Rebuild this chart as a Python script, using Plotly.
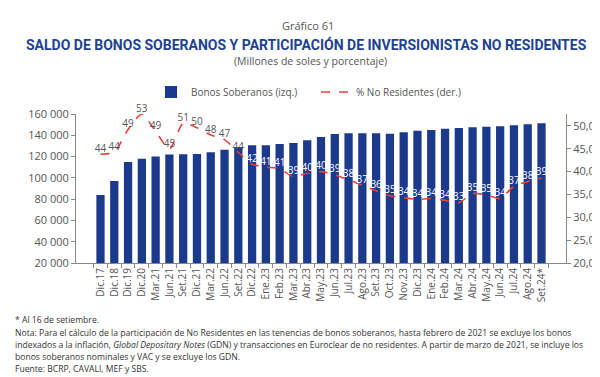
import plotly.graph_objects as go

categories = ["Dic.17", "Dic.18", "Dic.19", "Dic.20", "Mar.21", "Jun.21", "Set.21", "Dic.21",
              "Mar.22", "Jun.22", "Set.22", "Dic.22", "Ene.23", "Feb.23", "Mar.23", "Abr.23",
              "May.23", "Jun.23", "Jul.23", "Ago.23", "Set.23", "Oct.23", "Nov.23", "Dic.23",
              "Ene.24", "Feb.24", "Mar.24", "Abr.24", "May.24", "Jun.24", "Jul.24", "Ago.24", "Set.24*"]

bonos = [84000, 97000, 115000, 118000, 120000, 122000, 122100, 122400,
         124000, 126500, 129000, 130600, 130600, 131800, 132800, 135300,
         138400, 141200, 141900, 141900, 141900, 141500, 142800, 144300,
         145000, 146200, 146800, 147500, 148100, 148500, 149400, 150300, 151300]

no_residentes = [43.8, 44.2, 49.2, 52.6, 48.8, 44.9, 50.6, 49.6,
                 48.0, 47.0, 44.2, 41.6, 41.0, 40.6, 38.9, 39.6,
                 40.0, 39.3, 38.2, 37.0, 35.8, 34.7, 34.3, 33.9,
                 34.1, 33.7, 33.2, 35.2, 34.9, 34.1, 36.8, 37.8, 38.6]

labels = [44, 44, 49, 53, 49, 45, 51, 50, 48, 47, 44, 42, 41, 41, 39, 40,
          40, 39, 38, 37, 36, 35, 34, 34, 34, 34, 33, 35, 35, 34, 37, 38, 39]

BLUE = "#1c3a8c"
RED = "#e8413c"
GRAY = "#555555"

label_colors = [GRAY if i < 11 else "white" for i in range(len(categories))]

L, R, T, B = 68, 42, 106, 122
PW, PH = 600 - L - R, 377 - T - B


def px(x):
    return (x - L) / PW


def py(y):
    return (377 - y - B) / PH


fig = go.Figure()
fig.add_trace(go.Bar(
    x=categories, y=bonos, name="Bonos Soberanos (izq.)",
    marker=dict(color=BLUE, line=dict(width=0)), yaxis="y"))
fig.add_trace(go.Scatter(
    x=categories, y=no_residentes, name="% No Residentes (der.)",
    mode="lines+text", text=[str(v) for v in labels], textposition="top center",
    textfont=dict(color=label_colors, size=10, family="Open Sans"),
    line=dict(color=RED, width=1.6, dash="dash", shape="spline", smoothing=0.6),
    yaxis="y2", cliponaxis=False))

fig.update_layout(
    width=600, height=377,
    margin=dict(l=L, r=R, t=T, b=B),
    paper_bgcolor="white", plot_bgcolor="white",
    separators=", ",
    font=dict(family="Open Sans", color=GRAY, size=11),
    bargap=0.4,
    showlegend=True,
    legend=dict(orientation="h", x=px(143), xanchor="left", y=py(84), yanchor="middle",
                font=dict(size=10, color=GRAY), tracegroupgap=0,
                entrywidth=120, entrywidthmode="pixels"),
    xaxis=dict(type="category", tickangle=-90, tickfont=dict(size=10, color=GRAY),
               showline=True, linecolor="#888888", linewidth=1,
               ticks="outside", ticklen=4, tickcolor="#888888", tickson="boundaries",
               showgrid=False),
    yaxis=dict(range=[20000, 160000], dtick=20000, tickformat=",d",
               showline=True, linecolor="#888888", linewidth=1,
               ticks="outside", ticklen=4, tickcolor="#888888",
               showgrid=False, zeroline=False, tickfont=dict(size=11, color=GRAY)),
    yaxis2=dict(range=[20, 52.6], tickvals=[20, 25, 30, 35, 40, 45, 50], tickformat=".1f",
                overlaying="y", side="right",
                showline=True, linecolor="#888888", linewidth=1,
                ticks="outside", ticklen=4, tickcolor="#888888",
                showgrid=False, zeroline=False, tickfont=dict(size=11, color=GRAY)),
)

fig.add_annotation(text="Gráfico 61", xref="paper", yref="paper", x=px(300), y=py(17),
                   xanchor="center", yanchor="middle", showarrow=False,
                   font=dict(size=11, color=GRAY, family="Open Sans"))
fig.add_annotation(text="<b>SALDO DE BONOS SOBERANOS Y PARTICIPACIÓN DE INVERSIONISTAS NO RESIDENTES</b>",
                   xref="paper", yref="paper", x=px(298), y=py(37), xanchor="center", yanchor="middle",
                   showarrow=False, font=dict(size=14.0, color="#1d4291", family="Roboto"))
fig.add_annotation(text="(Millones de soles y porcentaje)", xref="paper", yref="paper", x=px(302),
                   y=py(53), xanchor="center", yanchor="middle", showarrow=False,
                   font=dict(size=10.5, color=GRAY, family="Open Sans"))

notes = [
    "* Al 16 de setiembre.",
    "Nota: Para el cálculo de la participación de No Residentes en las tenencias de bonos soberanos, hasta febrero de 2021 se excluye los bonos",
    "indexados a la inflación, <i>Global Depositary Notes</i> (GDN) y transacciones en Euroclear de no residentes. A partir de marzo de 2021, se incluye los",
    "bonos soberanos nominales y VAC y se excluye los GDN.",
    "Fuente: BCRP, CAVALI, MEF y SBS.",
]
note_ys = [312, 325, 337, 349, 361]
for t, yy in zip(notes, note_ys):
    fig.add_annotation(text=t, xref="paper", yref="paper",
                       x=px(5), y=py(yy),
                       xanchor="left", yanchor="middle", showarrow=False,
                       font=dict(size=8.6, color="#333333", family="Open Sans"))

fig.write_html("out.html")
